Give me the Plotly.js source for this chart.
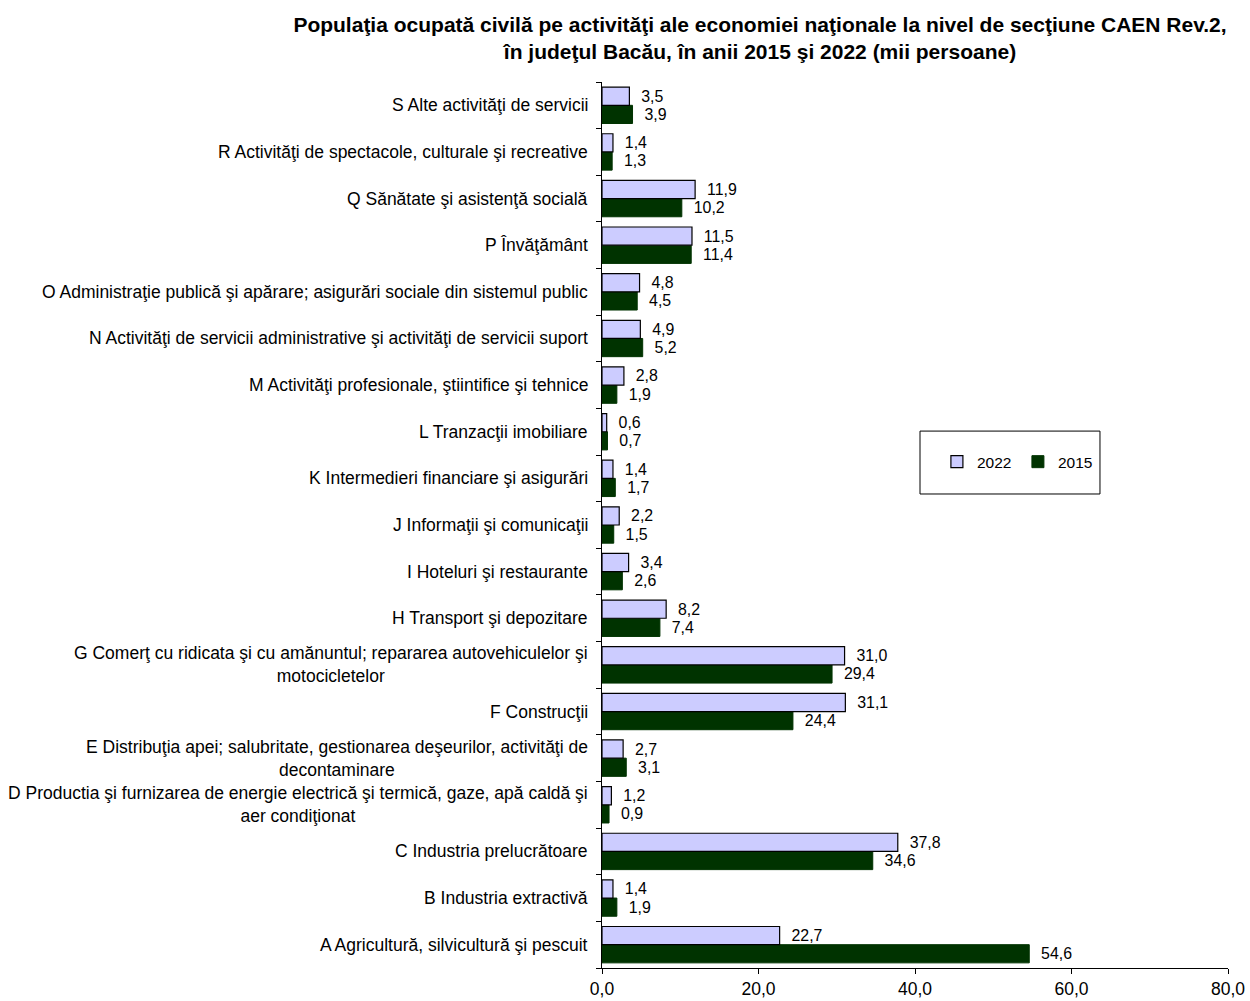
<!DOCTYPE html>
<html>
<head>
<meta charset="utf-8">
<script src="https://cdn.plot.ly/plotly-3.0.1.min.js"></script>
<style>html,body{margin:0;padding:0;background:#fff;}#chart{width:1250px;height:1001px;}</style>
</head>
<body>
<div id="chart"></div>
<script>
// Categories bottom (A) to top (S)
const categories = ["A","B","C","D","E","F","G","H","I","J","K","L","M","N","O","P","Q","R","S"];
const categoryLabels = [
  "A Agricultură, silvicultură şi pescuit",
  "B Industria extractivă",
  "C Industria prelucrătoare",
  "D Productia şi furnizarea de energie electrică şi termică, gaze, apă caldă şi<br>aer condiţionat",
  "E Distribuţia apei; salubritate, gestionarea deşeurilor, activităţi de<br>decontaminare",
  "F Construcţii",
  "G Comerţ cu ridicata şi cu amănuntul; repararea autovehiculelor şi<br>motocicletelor",
  "H Transport şi depozitare",
  "I Hoteluri şi restaurante",
  "J Informaţii şi comunicaţii",
  "K Intermedieri financiare şi asigurări",
  "L Tranzacţii imobiliare",
  "M Activităţi profesionale, ştiintifice şi tehnice",
  "N Activităţi de servicii administrative şi activităţi de servicii suport",
  "O Administraţie publică şi apărare; asigurări sociale din sistemul public",
  "P Învăţământ",
  "Q Sănătate şi asistenţă socială",
  "R Activităţi de spectacole, culturale şi recreative",
  "S Alte activităţi de servicii"
];
const values2022 = [22.7, 1.4, 37.8, 1.2, 2.7, 31.1, 31.0, 8.2, 3.4, 2.2, 1.4, 0.6, 2.8, 4.9, 4.8, 11.5, 11.9, 1.4, 3.5];
const values2015 = [54.6, 1.9, 34.6, 0.9, 3.1, 24.4, 29.4, 7.4, 2.6, 1.5, 1.7, 0.7, 1.9, 5.2, 4.5, 11.4, 10.2, 1.3, 3.9];
const xTicks = [0, 20, 40, 60, 80];
const seriesNames = ["2022", "2015"];
const titleText = "Populaţia ocupată civilă pe activităţi ale economiei naţionale la nivel de secţiune CAEN Rev.2,<br>în judeţul Bacău, în anii 2015 şi 2022 (mii persoane)";

const font = "Arial, 'Liberation Sans', sans-serif";

const trace2015 = {
  type: "bar", orientation: "h", name: seriesNames[1],
  y: categories, x: values2015,
  marker: {color: "#003300", line: {color: "#003300", width: 1}},
  texttemplate: "\u00a0\u00a0%{x:.1f}", textposition: "outside", cliponaxis: false,
  textfont: {family: font, size: 17.5, color: "#000"}
};
const trace2022 = {
  type: "bar", orientation: "h", name: seriesNames[0],
  y: categories, x: values2022,
  marker: {color: "#CCCCFF", line: {color: "#000000", width: 1.2}},
  texttemplate: "\u00a0\u00a0%{x:.1f}", textposition: "outside", cliponaxis: false,
  textfont: {family: font, size: 17.5, color: "#000"}
};

const annotations = categories.map((c, i) => ({
  xref: "paper", yref: "y", x: 0, y: c, xanchor: "right", yanchor: "middle",
  xshift: -12, text: categoryLabels[i], showarrow: false, align: "center",
  font: {family: font, size: 17.5, color: "#000"}
}));

const layout = {
  width: 1250, height: 1001,
  paper_bgcolor: "#fff", plot_bgcolor: "#fff",
  margin: {l: 602, r: 22, t: 82, b: 33},
  separators: ",.",
  barmode: "group", bargap: 0.22, bargroupgap: 0,
  title: {text: titleText, x: 0.608, xanchor: "center", y: 0.968, yanchor: "top",
          font: {family: font, size: 21, color: "#000", weight: "bold"}},
  xaxis: {range: [0, 80], tickvals: xTicks, tickformat: ".1f", showgrid: false, zeroline: false,
          showline: true, linecolor: "#000", linewidth: 1, ticks: "outside", ticklen: 5, tickcolor: "#000",
          tickfont: {family: font, size: 17.5, color: "#000"}},
  yaxis: {type: "category", categoryorder: "array", categoryarray: categories,
          showticklabels: false, showgrid: false, zeroline: false,
          showline: true, linecolor: "#000", linewidth: 1, ticks: "outside", ticklen: 5, tickcolor: "#000",
          tickson: "boundaries", range: [-0.5, 18.5]},
  showlegend: true,
  legend: {orientation: "h", x: 0.535, y: 0.571, xanchor: "left", yanchor: "middle",
           bgcolor: "rgba(0,0,0,0)", traceorder: "reversed", entrywidth: 36, itemwidth: 30,
           font: {family: font, size: 15.5, color: "#000"}},
  shapes: [{type: "rect", xref: "paper", yref: "paper", x0: 0.508, x1: 0.7955, y0: 0.535, y1: 0.606,
            line: {color: "#000", width: 1}, fillcolor: "rgba(0,0,0,0)"}],
  annotations: annotations
};

Plotly.newPlot("chart", [trace2015, trace2022], layout, {displayModeBar: false, staticPlot: true});
</script>
</body>
</html>
